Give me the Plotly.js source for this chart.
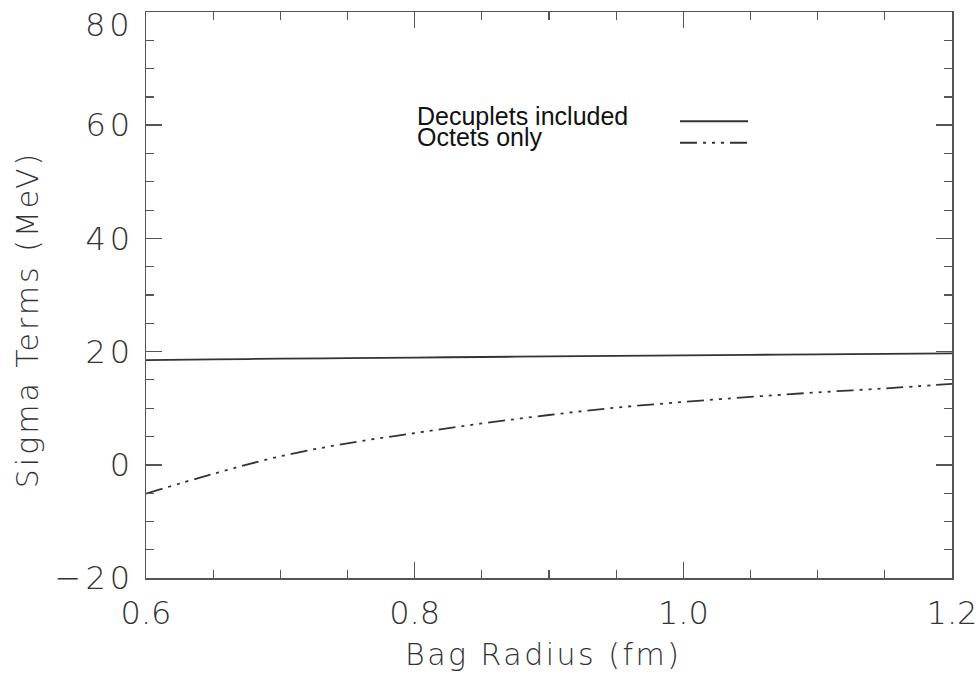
<!DOCTYPE html>
<html>
<head>
<meta charset="utf-8">
<script src="https://cdn.plot.ly/plotly-3.0.1.min.js"></script>
<style>
html,body{margin:0;padding:0;background:#fff;}
#chart{width:979px;height:678px;}
#chart .ytick text{letter-spacing:4px;}
</style>
</head>
<body>
<div id="chart"></div>
<script>
var radius = [0.6, 0.65, 0.7, 0.75, 0.8, 0.85, 0.9, 0.95, 1.0, 1.05, 1.1, 1.15, 1.2];
var decuplets = [18.5, 18.62, 18.75, 18.85, 18.95, 19.05, 19.15, 19.25, 19.35, 19.43, 19.5, 19.6, 19.7];
var octets = [-5.1, -1.6, 1.5, 3.8, 5.6, 7.3, 8.8, 10.1, 11.1, 12.0, 12.8, 13.5, 14.3];
var legendLabels = ["Decuplets included", "Octets only"];
var xTitle = "Bag Radius (fm)";
var yTitle = "Sigma Terms (MeV)";
var xTicks = [0.6, 0.8, 1.0, 1.2];
var xTickText = ["0.6", "0.8", "1.0", "1.2"];
var yTicks = [-20, 0, 20, 40, 60, 80];
var yTickText = ["\u221220", "0", "20", "40", "60", "80"];

var lineColor = "#333333";
var dashOct = "17px,6px,3px,6px,3px,6px,3px,6px";
var thinFont = {family: "DejaVu Sans", size: 32, color: "#333333", weight: 200};

var traces = [
  {x: radius, y: decuplets, mode: "lines", line: {color: lineColor, width: 1.8, shape: "spline"}, showlegend: false, hoverinfo: "skip"},
  {x: radius, y: octets, mode: "lines", line: {color: lineColor, width: 1.8, dash: dashOct, shape: "spline"}, showlegend: false, hoverinfo: "skip"}
];

// the top label ("80") is drawn lowered, as in the reference, so it is not cut at the page edge
var topIdx = yTicks.length - 1;
var yTickShown = yTickText.map(function (t, i) { return i === topIdx ? "" : t; });

var axisCommon = {
  showgrid: false, zeroline: false, showline: true, linecolor: "#555555", linewidth: 1.5,
  mirror: "ticks", ticks: "inside", ticklen: 16, tickwidth: 1.5, tickcolor: "#555555",
  tickfont: thinFont
};

function spaced(t, sp) { return '<span style="letter-spacing:' + sp + 'px">' + t + '</span>'; }

var layout = {
  width: 979, height: 678,
  margin: {l: 146, r: 27, t: 12, b: 100},
  paper_bgcolor: "#ffffff", plot_bgcolor: "#ffffff",
  xaxis: Object.assign({}, axisCommon, {
    range: [0.6, 1.2], tickvals: xTicks, ticktext: xTickText,
    minor: {dtick: 0.05, ticks: "inside", ticklen: 8, tickwidth: 1.2, tickcolor: "#555555"},
    ticklabelstandoff: 6
  }),
  yaxis: Object.assign({}, axisCommon, {
    range: [-20, 80], tickvals: yTicks, ticktext: yTickShown,
    minor: {dtick: 5, ticks: "inside", ticklen: 8, tickwidth: 1.2, tickcolor: "#555555"},
    ticklabelstandoff: 4
  }),
  annotations: [
    {xref: "paper", yref: "y", x: 0, y: yTicks[topIdx], xanchor: "right", yanchor: "top", xshift: -10, yshift: 8, showarrow: false,
     text: spaced(yTickText[topIdx], 4), font: thinFont},
    {xref: "paper", yref: "paper", x: 0.334, y: 0.817, xanchor: "left", yanchor: "middle", showarrow: false,
     text: legendLabels[0], font: {family: "Liberation Sans", size: 25, color: "#111111"}},
    {xref: "paper", yref: "paper", x: 0.334, y: 0.780, xanchor: "left", yanchor: "middle", showarrow: false,
     text: legendLabels[1], font: {family: "Liberation Sans", size: 25, color: "#111111"}},
    {xref: "paper", yref: "paper", x: 0.492, y: -0.136, xanchor: "center", yanchor: "middle", showarrow: false,
     text: spaced(xTitle, 2.5), font: {family: "DejaVu Sans", size: 30, color: "#333333", weight: 200}},
    {xref: "paper", yref: "paper", x: -0.146, y: 0.456, xanchor: "center", yanchor: "middle", showarrow: false, textangle: -90,
     text: spaced(yTitle, 3), font: {family: "DejaVu Sans", size: 30, color: "#333333", weight: 200}}
  ],
  shapes: [
    {type: "line", xref: "paper", yref: "paper", x0: 0.6625, x1: 0.747, y0: 0.807, y1: 0.807, line: {color: lineColor, width: 1.8}},
    {type: "line", xref: "paper", yref: "paper", x0: 0.6625, x1: 0.747, y0: 0.769, y1: 0.769, line: {color: lineColor, width: 1.8, dash: dashOct}}
  ]
};

Plotly.newPlot("chart", traces, layout, {staticPlot: true, displayModeBar: false});
</script>
</body>
</html>
